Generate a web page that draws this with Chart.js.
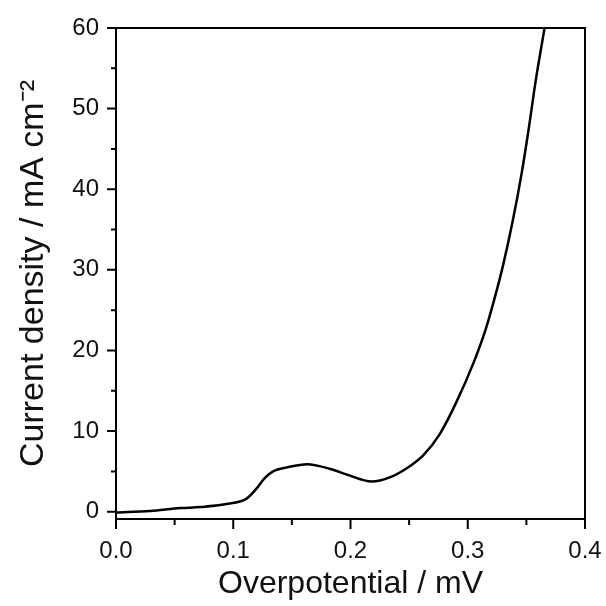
<!DOCTYPE html>
<html>
<head>
<meta charset="utf-8">
<script src="https://cdn.jsdelivr.net/npm/chart.js@4"></script>
<style>
  html, body { margin: 0; padding: 0; background: #fff; }
  #wrap { width: 606px; height: 606px; }
</style>
</head>
<body>
<div id="wrap"><canvas id="chart" width="606" height="606"></canvas></div>
<script>
// overpotential (V) and current density (mA cm-2)
const overpotential = [0.000, 0.029, 0.055, 0.072, 0.094, 0.111, 0.120, 0.127, 0.134, 0.146,
    0.163, 0.183, 0.197, 0.218, 0.234, 0.248, 0.262, 0.276, 0.290, 0.305,
    0.315, 0.322, 0.330, 0.338, 0.346, 0.352, 0.358, 0.3655];
const currentDensity = [-0.1, 0.1, 0.45, 0.58, 0.95, 1.6, 2.9, 4.2, 5.0, 5.5,
    5.9, 5.3, 4.6, 3.75, 4.3, 5.4, 7.0, 9.6, 13.5, 18.5,
    22.5, 26.0, 30.5, 35.8, 42.0, 47.5, 53.5, 60];

// axis ticks (major ones get labels, minor ones sit halfway between)
const xTicks = [0, 0.05, 0.1, 0.15, 0.2, 0.25, 0.3, 0.35, 0.4];
const xTickLabels = ['0.0', '', '0.1', '', '0.2', '', '0.3', '', '0.4'];
const yTicks = [0, 5, 10, 15, 20, 25, 30, 35, 40, 45, 50, 55, 60];
const yTickLabels = ['0', '', '10', '', '20', '', '30', '', '40', '', '50', '', '60'];

const points = overpotential.map((x, i) => ({ x: x, y: currentDensity[i] }));

// draws outward ticks (long for major, short for minor) and the frame box
const frameAndTicks = {
    id: 'frameAndTicks',
    afterDraw(chart) {
        const ctx = chart.ctx;
        const area = chart.chartArea;
        const xs = chart.scales.x;
        const ys = chart.scales.y;
        ctx.save();
        ctx.strokeStyle = '#000';
        ctx.lineWidth = 2;
        ctx.strokeRect(area.left, area.top, area.right - area.left, area.bottom - area.top);
        ctx.beginPath();
        xTicks.forEach((v, i) => {
            const px = xs.getPixelForValue(v);
            const len = xTickLabels[i] ? 10 : 6;
            ctx.moveTo(px, area.bottom);
            ctx.lineTo(px, area.bottom + len);
        });
        yTicks.forEach((v, i) => {
            const py = ys.getPixelForValue(v);
            const len = yTickLabels[i] ? 9 : 5;
            ctx.moveTo(area.left, py);
            ctx.lineTo(area.left - len, py);
        });
        ctx.stroke();
        ctx.restore();
    }
};

const ctx = document.getElementById('chart').getContext('2d');
const chart = new Chart(ctx, {
    type: 'scatter',
    data: {
        datasets: [{
            data: points,
            showLine: true,
            borderColor: '#000',
            borderWidth: 2.5,
            pointRadius: 0,
            cubicInterpolationMode: 'monotone',
            fill: false
        }]
    },
    options: {
        responsive: false,
        animation: false,
        layout: { padding: { top: 28, right: 21, left: 0, bottom: 0 } },
        plugins: {
            legend: { display: false },
            tooltip: { enabled: false }
        },
        scales: {
            x: {
                type: 'linear',
                min: 0,
                max: 0.4,
                afterBuildTicks: (scale) => { scale.ticks = xTicks.map(v => ({ value: v })); },
                afterFit: (scale) => {
                    scale.height = 87;
                    scale.paddingLeft = 0;
                    scale.paddingRight = 0;
                },
                grid: { display: false },
                border: { display: false },
                ticks: {
                    padding: 10,
                    color: '#111',
                    font: { family: 'Liberation Sans', size: 24 },
                    maxRotation: 0,
                    autoSkip: false,
                    callback: (value, index) => xTickLabels[index]
                },
                title: {
                    display: true,
                    text: 'Overpotential / mV',
                    color: '#111',
                    font: { family: 'Liberation Sans', size: 32 },
                    padding: { top: 3, bottom: 3 }
                }
            },
            y: {
                type: 'linear',
                min: -0.9,
                max: 60,
                afterBuildTicks: (scale) => { scale.ticks = yTicks.map(v => ({ value: v })); },
                afterFit: (scale) => {
                    scale.width = 116;
                    scale.paddingTop = 0;
                    scale.paddingBottom = 0;
                },
                grid: { display: false },
                border: { display: false },
                ticks: {
                    padding: 9,
                    color: '#111',
                    font: { family: 'Liberation Sans', size: 24 },
                    autoSkip: false,
                    callback: (value, index) => yTickLabels[index]
                },
                title: {
                    display: true,
                    text: 'Current density / mA cm\u207B\u00B2',
                    color: '#111',
                    font: { family: 'Liberation Sans', size: 34 },
                    padding: { top: 13, bottom: 13 }
                }
            }
        }
    },
    plugins: [frameAndTicks]
});
</script>
</body>
</html>
